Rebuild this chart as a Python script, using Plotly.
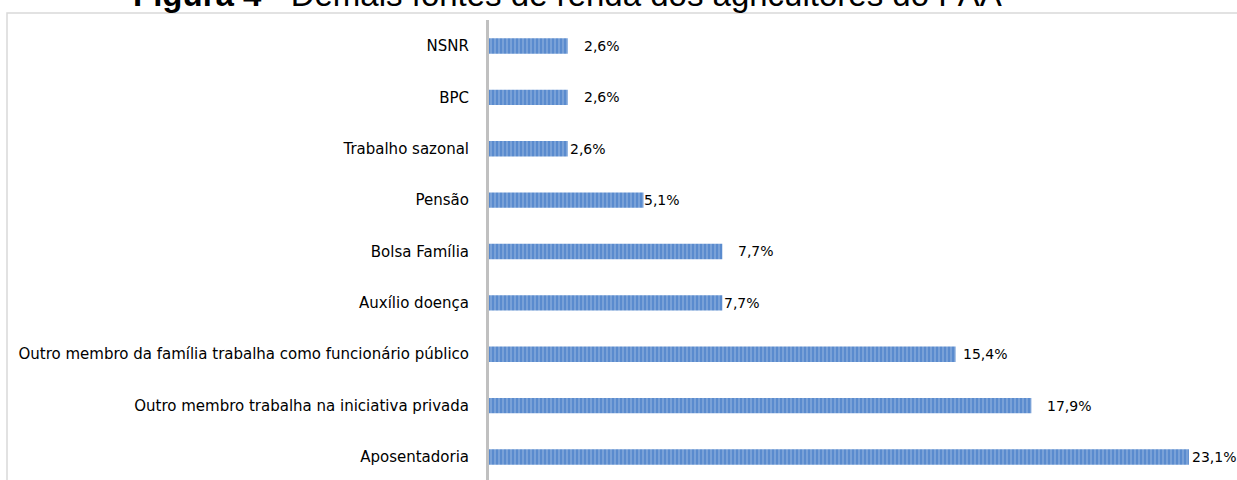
import plotly.graph_objects as go

# ---- data ----
categories = [
    "Aposentadoria",
    "Outro membro trabalha na iniciativa privada",
    "Outro membro da família trabalha como funcionário público",
    "Auxílio doença",
    "Bolsa Família",
    "Pensão",
    "Trabalho sazonal",
    "BPC",
    "NSNR",
]
values = [23.1, 17.9, 15.4, 7.7, 7.7, 5.1, 2.6, 2.6, 2.6]
value_labels = ["23,1%", "17,9%", "15,4%", "7,7%", "7,7%", "5,1%", "2,6%", "2,6%", "2,6%"]
title_bold = "Figura 4"
title_rest = " - Demais fontes de renda dos agricultores do PAA"

# ---- style ----
W, H = 1237, 480
ML, MT = 489, 20
PX_PER_UNIT = 30.3
label_shift = [1, 14, 5, 0, 14, -2, 0, 14, 14]
FONT = "Liberation Sans, Arial, sans-serif"
LFONT = "DejaVu Sans, Liberation Sans, sans-serif"

plot_w = W - ML
plot_h = H - MT

fig = go.Figure()
fig.add_trace(go.Bar(
    y=categories,
    x=values,
    orientation="h",
    marker=dict(
        color="#5A8BCE",
        line=dict(width=0),
        pattern=dict(shape="|", size=4, solidity=0.35, fgcolor="#B2CAEA", fillmode="overlay"),
    ),
    width=0.3,
    hoverinfo="skip",
))

for cat, v, lab, sh in zip(categories, values, value_labels, label_shift):
    fig.add_annotation(
        x=v, y=cat, xref="x", yref="y", text=lab, showarrow=False,
        xanchor="left", yanchor="middle", xshift=sh,
        font=dict(family=LFONT, size=14, color="#000000"),
    )

# title (partially cut at top like the reference)
fig.add_annotation(
    x=(567 - ML) / plot_w, y=(H - 15) / plot_h, xref="paper", yref="paper",
    text=f"<b>{title_bold}</b>{title_rest}", showarrow=False,
    xanchor="center", yanchor="bottom",
    font=dict(family=FONT, size=33, color="#000000"),
)

# chart-area frame
fig.add_shape(
    type="rect", xref="paper", yref="paper",
    x0=(7 - ML) / plot_w, x1=(W + 5 - ML) / plot_w,
    y0=(H - 13) / plot_h, y1=-0.02,
    line=dict(color="#D9D9D9", width=1.5), fillcolor="rgba(0,0,0,0)", layer="below",
)

fig.update_layout(
    width=W, height=H,
    margin=dict(l=ML, r=0, t=MT, b=0, pad=0),
    paper_bgcolor="white", plot_bgcolor="white",
    showlegend=False,
    xaxis=dict(range=[0, plot_w / PX_PER_UNIT], visible=False, fixedrange=True),
    yaxis=dict(
        range=[-0.448, 8.506], automargin=False,
        showline=True, linecolor="#C0C0C0", linewidth=3,
        showgrid=False, zeroline=False, ticks="",
        ticklabelstandoff=14,
        tickfont=dict(family=LFONT, size=15, color="#000000"),
        fixedrange=True,
    ),
)

fig.write_html(
    "out.html",
    config={"displayModeBar": False},
    post_script="document.body.style.margin='0';document.body.style.overflow='hidden';",
)
